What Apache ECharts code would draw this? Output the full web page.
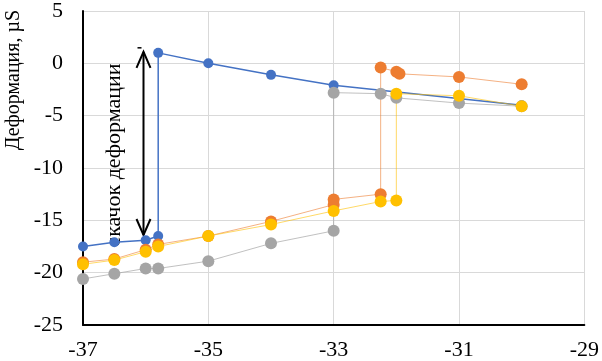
<!DOCTYPE html>
<html>
<head>
<meta charset="utf-8">
<script src="https://cdn.jsdelivr.net/npm/echarts@6/dist/echarts.min.js"></script>
<style>
  html, body { margin: 0; padding: 0; background: #fff; }
  #chart { width: 602px; height: 361px; }
</style>
</head>
<body>
<div id="chart"></div>
<script>
// temperature (x) / deformation (y) pairs
const blueData = [
  [-37, -17.5], [-36.5, -17.1], [-36, -16.9], [-35.8, -16.5],
  [-35.8, 1], [-35, 0], [-34, -1.1], [-33, -2.1], [-30, -4]
];
const orangeData = [
  [-37, -19.0], [-36.5, -18.7], [-36, -17.8], [-35.8, -17.3], [-35, -16.5],
  [-34, -15.1], [-33, -13.5], [-33, -13.0], [-32.25, -12.5],
  [-32.25, -0.4], [-32, -0.8], [-31.95, -1.0], [-31, -1.3], [-30, -2.0]
];
const greyData = [
  [-37, -20.6], [-36.5, -20.1], [-36, -19.6], [-35.8, -19.6], [-35, -18.9],
  [-34, -17.2], [-33, -16.0], [-33, -2.8], [-32.25, -2.9], [-32, -3.3],
  [-31, -3.8], [-30, -4.1]
];
const yellowData = [
  [-37, -19.2], [-36.5, -18.8], [-36, -18.0], [-35.8, -17.5], [-35, -16.5],
  [-34, -15.4], [-33, -14.1], [-32.25, -13.2], [-32, -13.1],
  [-32, -2.9], [-31, -3.1], [-30, -4.1]
];

// annotation: arrow showing the jump
const arrowX = -36.05;
const arrowTop = 1.1;
const arrowBottom = -16.4;
const yTitle = 'Деформация, µS';
const jumpLabel = 'скачок деформации';

const serif = 'Liberation Serif';

let chart = echarts.init(document.getElementById('chart'));

function line(data, color, lineColor, width, size) {
  return {
    type: 'line',
    data: data,
    symbol: 'circle',
    symbolSize: size,
    showAllSymbol: true,
    animation: false,
    itemStyle: { color: color },
    lineStyle: { color: lineColor, width: width }
  };
}

let option = {
  animation: false,
  grid: { left: 83, right: 14, top: 7, bottom: 35 },
  xAxis: {
    type: 'value',
    min: -37,
    max: -29,
    interval: 2,
    axisLine: { onZero: false, lineStyle: { color: '#000', width: 2 } },
    axisTick: { show: false },
    axisLabel: { color: '#000', fontFamily: serif, fontSize: 22, margin: 14 },
    splitLine: { lineStyle: { color: '#d9d9d9', width: 1 } }
  },
  yAxis: {
    type: 'value',
    min: -25,
    max: 5,
    interval: 5,
    axisLine: { show: true, onZero: false, lineStyle: { color: '#000', width: 2 } },
    axisTick: { show: false },
    axisLabel: { color: '#000', fontFamily: serif, fontSize: 22, margin: 20 },
    splitLine: { lineStyle: { color: '#d9d9d9', width: 1 } }
  },
  series: [
    line(blueData, '#4472C4', '#4472C4', 1.5, 10),
    line(orangeData, '#ED7D31', 'rgba(237,125,49,0.6)', 1, 12),
    line(greyData, '#A5A5A5', 'rgba(165,165,165,0.7)', 1, 12),
    line(yellowData, '#FFC000', 'rgba(255,192,0,0.6)', 1, 12)
  ]
};

chart.setOption(option);

// annotations placed through the chart's own scales
const pTop = chart.convertToPixel({ gridIndex: 0 }, [arrowX, arrowTop]);
const pBot = chart.convertToPixel({ gridIndex: 0 }, [arrowX, arrowBottom]);
const ax = Math.round(pTop[0]) + 0.5;
const black = { stroke: '#000', lineWidth: 2, fill: null };

chart.setOption({
  graphic: [
    {
      type: 'line',
      shape: { x1: ax, y1: pTop[1], x2: ax, y2: pBot[1] },
      style: black
    },
    {
      type: 'polyline',
      shape: { points: [[ax - 7, pTop[1] + 16], [ax, pTop[1]], [ax + 7, pTop[1] + 16]] },
      style: black
    },
    {
      type: 'polyline',
      shape: { points: [[ax - 7, pBot[1] - 16], [ax, pBot[1]], [ax + 7, pBot[1] - 16]] },
      style: black
    },
    {
      type: 'line',
      shape: { x1: ax - 6, y1: pTop[1] - 4, x2: ax - 2, y2: pTop[1] - 4 },
      style: { stroke: '#000', lineWidth: 1.5 }
    },
    {
      type: 'text',
      x: ax - 29,
      y: 155,
      rotation: Math.PI / 2,
      style: {
        text: jumpLabel,
        font: '22px ' + serif,
        fill: '#000',
        align: 'center',
        verticalAlign: 'middle'
      }
    },
    {
      type: 'text',
      x: 14,
      y: 80,
      rotation: Math.PI / 2,
      style: {
        text: yTitle,
        font: '20px ' + serif,
        fill: '#000',
        align: 'center',
        verticalAlign: 'middle'
      }
    }
  ]
});
</script>
</body>
</html>
